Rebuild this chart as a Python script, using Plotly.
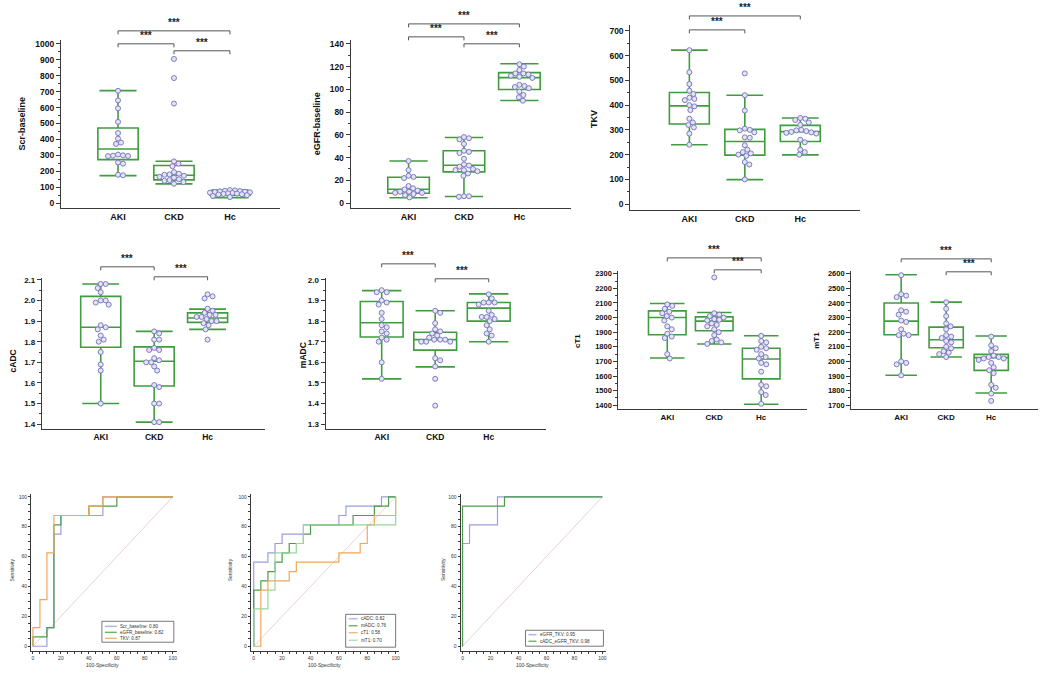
import numpy as np
import plotly.graph_objects as go

W, H = 1060, 690
GROUPS = ["AKI", "CKD", "Hc"]

# ---------------- individual values ----------------
scr_aki = [705, 645, 595, 510, 440, 405, 380, 372, 305, 300, 298, 296, 295, 255, 248, 178, 175]
scr_ckd = [905, 785, 625, 262, 248, 232, 195, 185, 180, 178, 172, 165, 160, 150, 145, 140, 132, 122]
scr_hc = [82, 80, 78, 76, 74, 72, 70, 68, 66, 64, 62, 60, 58, 56, 54, 50, 45, 38]

egfr_aki = [37, 29, 24, 23, 22, 15, 13, 12, 11, 10, 10, 9, 9, 8, 7, 5]
egfr_ckd = [58, 57, 56, 52, 46, 45, 44, 39, 34, 33, 32, 30, 29, 29, 28, 26, 24, 6, 6, 5.5]
egfr_hc = [122, 120, 117, 114, 114, 113, 112, 111, 110, 104, 103, 102, 101, 98, 95, 93, 90]

tkv_aki = [622, 533, 485, 458, 445, 430, 425, 420, 400, 395, 380, 345, 330, 320, 310, 285, 240]
tkv_ckd = [528, 440, 378, 305, 300, 298, 290, 270, 268, 238, 220, 210, 205, 200, 195, 170, 160, 100]
tkv_hc = [348, 345, 340, 330, 320, 300, 298, 295, 292, 290, 288, 285, 260, 250, 220, 210, 200]

cadc_aki = [2.08, 2.08, 2.06, 2.04, 2.00, 2.00, 1.99, 1.98, 1.88, 1.87, 1.86, 1.83, 1.81, 1.80, 1.75, 1.69, 1.66, 1.50]
cadc_ckd = [1.85, 1.84, 1.81, 1.81, 1.77, 1.76, 1.76, 1.72, 1.71, 1.70, 1.70, 1.68, 1.66, 1.59, 1.58, 1.50, 1.50, 1.41, 1.41]
cadc_hc = [2.03, 2.02, 2.01, 1.96, 1.95, 1.94, 1.93, 1.93, 1.92, 1.92, 1.91, 1.90, 1.90, 1.89, 1.88, 1.86, 1.81]

madc_aki = [1.95, 1.94, 1.94, 1.90, 1.89, 1.88, 1.84, 1.81, 1.78, 1.77, 1.75, 1.74, 1.72, 1.71, 1.70, 1.60, 1.52]
madc_ckd = [1.85, 1.84, 1.79, 1.76, 1.75, 1.74, 1.73, 1.72, 1.71, 1.71, 1.71, 1.70, 1.70, 1.70, 1.62, 1.61, 1.58, 1.52, 1.39]
madc_hc = [1.93, 1.91, 1.89, 1.89, 1.89, 1.88, 1.85, 1.83, 1.82, 1.82, 1.81, 1.80, 1.78, 1.76, 1.74, 1.73, 1.70]

ct1_aki = [2090, 2080, 2060, 2040, 2030, 2010, 2000, 1980, 1940, 1920, 1890, 1870, 1860, 1750, 1720]
ct1_ckd = [2275, 2030, 2020, 2010, 2000, 1990, 1985, 1980, 1960, 1950, 1940, 1920, 1900, 1880, 1850, 1840, 1830, 1820]
ct1_hc = [1875, 1840, 1830, 1800, 1790, 1780, 1750, 1730, 1720, 1690, 1680, 1630, 1540, 1530, 1490, 1470, 1410]

mt1_aki = [2590, 2460, 2450, 2440, 2350, 2340, 2320, 2280, 2270, 2220, 2190, 2180, 2180, 2000, 1990, 1980, 1905]
mt1_ckd = [2405, 2360, 2310, 2260, 2240, 2220, 2180, 2170, 2160, 2140, 2130, 2100, 2090, 2070, 2060, 2050, 2030]
mt1_hc = [2170, 2110, 2090, 2070, 2040, 2030, 2030, 2020, 2020, 2010, 1990, 1960, 1940, 1920, 1840, 1820, 1780, 1730]

# ---------------- box statistics [AKI, CKD, Hc] ----------------
scr_q1, scr_med, scr_q3 = [273, 146, 50], [340, 175, 62], [472, 236, 74]
scr_lo, scr_hi = [173, 121, 35], [706, 263, 82]
egfr_q1, egfr_med, egfr_q3 = [8.7, 27.4, 99.8], [12.2, 33.2, 110.3], [22.7, 46, 114.7]
egfr_lo, egfr_hi = [4.7, 5.8, 90.2], [37, 57.6, 122.5]
tkv_q1, tkv_med, tkv_q3 = [324, 198, 253], [397, 253, 293], [451, 302, 318]
tkv_lo, tkv_hi = [240, 99, 199], [622, 440, 348]
cadc_q1, cadc_med, cadc_q3 = [1.773, 1.585, 1.894], [1.87, 1.705, 1.915], [2.02, 1.775, 1.94]
cadc_lo, cadc_hi = [1.50, 1.41, 1.86], [2.08, 1.85, 1.958]
madc_q1, madc_med, madc_q3 = [1.723, 1.659, 1.80], [1.792, 1.71, 1.863], [1.895, 1.746, 1.89]
madc_lo, madc_hi = [1.52, 1.578, 1.70], [1.948, 1.85, 1.932]
ct1_q1, ct1_med, ct1_q3 = [1883, 1910, 1581], [2001, 1976, 1717], [2046, 2005, 1790]
ct1_lo, ct1_hi = [1724, 1819, 1407], [2096, 2035, 1876]
mt1_q1, mt1_med, mt1_q3 = [2183, 2094, 1939], [2276, 2148, 2026], [2400, 2235, 2048]
mt1_lo, mt1_hi = [1905, 2030, 1784], [2593, 2406, 2174]

# significance comparisons per panel (group index pairs) and label
sig_label = "***"
scr_pairs = [(0, 2), (0, 1), (1, 2)]
egfr_pairs = [(0, 2), (0, 1), (1, 2)]
tkv_pairs = [(0, 2), (0, 1)]
cadc_pairs = [(0, 1), (1, 2)]
madc_pairs = [(0, 1), (1, 2)]
ct1_pairs = [(0, 2), (1, 2)]
mt1_pairs = [(0, 2), (1, 2)]

# ---------------- ROC curves (100-Specificity, Sensitivity) ----------------
roc1_scr_x, roc1_scr_y = [0, 10, 15, 20, 50, 100], [0, 12.5, 75, 87.5, 100, 100]
roc1_egfr_x, roc1_egfr_y = [0, 0, 10, 15, 20, 40, 60, 100], [0, 6.25, 12.5, 81.25, 87.5, 93.75, 100, 100]
roc1_tkv_x, roc1_tkv_y = [0, 0, 5, 10, 15, 40, 50, 100], [0, 12.5, 31.25, 62.5, 87.5, 93.75, 100, 100]
roc2_cadc_x = [0, 0, 10, 15, 20, 35, 60, 65, 90, 100]
roc2_cadc_y = [0, 56.25, 62.5, 68.75, 75, 81.25, 87.5, 93.75, 100, 100]
roc2_madc_x = [0, 0, 5, 10, 15, 20, 25, 35, 40, 70, 85, 95, 100]
roc2_madc_y = [0, 37.5, 43.75, 50, 56.25, 62.5, 68.75, 75, 81.25, 87.5, 93.75, 100, 100]
roc2_ct1_x = [0, 5, 10, 25, 30, 60, 75, 80, 85, 100]
roc2_ct1_y = [0, 37.5, 43.75, 50, 56.25, 62.5, 68.75, 81.25, 87.5, 100]
roc2_mt1_x = [0, 0, 10, 15, 30, 35, 100]
roc2_mt1_y = [0, 25, 37.5, 62.5, 68.75, 81.25, 100]
roc3_a_x, roc3_a_y = [0, 0, 5, 25, 100], [0, 68.75, 81.25, 100, 100]
roc3_b_x, roc3_b_y = [0, 0, 30, 100], [0, 93.75, 100, 100]
ref_x, ref_y = [0, 100], [0, 100]

roc1_names = ["Scr_baseline: 0.80", "eGFR_baseline: 0.82", "TKV: 0.87"]
roc2_names = ["cADC: 0.82", "mADC: 0.76", "cT1: 0.58", "mT1: 0.70"]
roc3_names = ["eGFR_TKV: 0.95", "cADC_eGFR_TKV: 0.98"]

# ---------------- styles ----------------
GREEN = "#3f9c3f"
PT_LINE = "#7c7cc0"
PT_FILL = "#e4e4f4"
AXC = "#3a3a3a"
BR = "#555555"
C_BLUE = "#9c9ce0"
C_GREEN = "#4a9d4a"
C_ORANGE = "#f2a65a"
C_LGREEN = "#9ad69a"
C_DIAG = "#e8d2d2"
FONT = "Liberation Sans, Arial, sans-serif"


def P(x):
    return x / W


def Q(y):
    return 1 - y / H


fig = go.Figure()


def swarm(vals, xppu, yppu, d=5.0, cap=21.0):
    vals = np.asarray(vals, float)
    ys = vals * yppu
    order = np.argsort(-vals, kind="stable")
    px_, py_ = [], []
    off = np.zeros(len(vals))
    cands = [0.0]
    k = 1
    while k * 0.5 <= cap:
        cands += [k * 0.5, -k * 0.5]
        k += 1
    for i in order:
        y = ys[i]
        chosen, best_gap, fallback = None, -1.0, 0.0
        for c in cands:
            gaps = [np.hypot(c - a, y - b) for a, b in zip(px_, py_)]
            g = min(gaps) if gaps else 1e9
            if g >= d:
                chosen = c
                break
            if g > best_gap + 0.3:
                best_gap, fallback = g, c
        if chosen is None:
            chosen = fallback
        px_.append(chosen)
        py_.append(y)
        off[i] = chosen
    return off / xppu


def box_panel(n, groups, stats, cfg):
    xs = "x" if n == 1 else f"x{n}"
    ys_ = "y" if n == 1 else f"y{n}"
    x0, x1 = cfg["xpx"]
    yt, yb = cfg["ypx"]
    xr, yr = cfg["xr"], cfg["yr"]
    xppu = (x1 - x0) / (xr[1] - xr[0])
    yppu = (yb - yt) / (yr[1] - yr[0])
    q1, med, q3, lo, hi = stats
    fig.add_trace(go.Box(
        x=[0, 1, 2], q1=q1, median=med, q3=q3, lowerfence=lo, upperfence=hi,
        width=cfg["bw"], whiskerwidth=0.92, boxpoints=False,
        line=dict(color=GREEN, width=1.6), fillcolor="rgba(0,0,0,0)",
        xaxis=xs, yaxis=ys_, showlegend=False, hoverinfo="skip"))
    for gi, vals in enumerate(groups):
        off = swarm(vals, xppu, yppu)
        fig.add_trace(go.Scatter(
            x=gi + off, y=vals, mode="markers", xaxis=xs, yaxis=ys_, showlegend=False,
            marker=dict(size=5, color=PT_FILL, line=dict(color=PT_LINE, width=1))))
    ax = dict(domain=[P(x0), P(x1)], anchor=ys_, range=xr, tickvals=[0, 1, 2], ticktext=GROUPS,
              showline=True, linecolor=AXC, linewidth=1.2, ticks="", showgrid=False, zeroline=False,
              tickfont=dict(family=FONT, size=cfg["fs"], color="#111", weight="bold"))
    ay = dict(domain=[Q(yb), Q(yt)], anchor=xs, range=yr, dtick=cfg["dt"], tickformat=cfg.get("fmt", ""),
              showline=True, linecolor=AXC, linewidth=1.2, ticks="outside", ticklen=4, tickcolor=AXC,
              showgrid=False, zeroline=False,
              minor=dict(dtick=cfg["dt"] / 2, ticks="outside", ticklen=2, tickcolor=AXC),
              tickfont=dict(family=FONT, size=cfg["fs"] - 0.5, color="#111", weight="bold"))
    fig.update_layout(**{("xaxis" if n == 1 else f"xaxis{n}"): ax,
                         ("yaxis" if n == 1 else f"yaxis{n}"): ay})
    fig.add_annotation(text=cfg["title"], x=P(cfg["tpos"][0]), y=Q(cfg["tpos"][1]), xref="paper",
                       yref="paper", textangle=-90, showarrow=False, xanchor="center", yanchor="middle",
                       font=dict(family=FONT, size=cfg["fs"], color="#111", weight="bold"))
    for (a, b), ly in zip(cfg["pairs"], cfg["blev"]):
        ya, yt2 = Q(ly), Q(ly + 3.5)
        fig.add_shape(type="path", xref=xs, yref="paper",
                      path=f"M {a},{yt2} L {a},{ya} L {b},{ya} L {b},{yt2}",
                      line=dict(color=BR, width=1))
        fig.add_annotation(text=sig_label, x=(a + b) / 2, y=Q(ly - 0.5), xref=xs, yref="paper",
                           xanchor="center", yanchor="bottom", showarrow=False,
                           font=dict(family=FONT, size=10, color="#222", weight="bold"))


box_panel(1, [scr_aki, scr_ckd, scr_hc], [scr_q1, scr_med, scr_q3, scr_lo, scr_hi],
          dict(xpx=(61, 280), ypx=(38, 207), xr=[-1.02, 2.89], yr=[-31, 1025], bw=0.72, dt=100,
               fs=9, title="Scr-baseline", tpos=(22, 122), pairs=scr_pairs, blev=[29, 42, 49]))
box_panel(2, [egfr_aki, egfr_ckd, egfr_hc], [egfr_q1, egfr_med, egfr_q3, egfr_lo, egfr_hi],
          dict(xpx=(351, 572), ypx=(38, 207), xr=[-1.045, 2.94], yr=[-4.4, 143.5], bw=0.75, dt=20,
               fs=9, title="eGFR-baseline", tpos=(318, 122), pairs=egfr_pairs, blev=[22, 35, 42]))
box_panel(3, [tkv_aki, tkv_ckd, tkv_hc], [tkv_q1, tkv_med, tkv_q3, tkv_lo, tkv_hi],
          dict(xpx=(631, 861), ypx=(23, 209), xr=[-1.063, 3.08], yr=[-24, 724], bw=0.72, dt=100,
               fs=9, title="TKV", tpos=(595, 117), pairs=tkv_pairs, blev=[14, 28]))
box_panel(4, [cadc_aki, cadc_ckd, cadc_hc], [cadc_q1, cadc_med, cadc_q3, cadc_lo, cadc_hi],
          dict(xpx=(42, 265), ypx=(277, 429), xr=[-1.10, 3.07], yr=[1.376, 2.11], bw=0.75, dt=0.1,
               fmt=".1f", fs=8.5, title="cADC", tpos=(13, 360), pairs=cadc_pairs, blev=[266, 276]))
box_panel(5, [madc_aki, madc_ckd, madc_hc], [madc_q1, madc_med, madc_q3, madc_lo, madc_hi],
          dict(xpx=(326, 547), ypx=(277, 429), xr=[-1.047, 3.08], yr=[1.276, 2.01], bw=0.8, dt=0.1,
               fmt=".1f", fs=8.5, title="mADC", tpos=(304, 355), pairs=madc_pairs, blev=[263, 278]))
box_panel(6, [ct1_aki, ct1_ckd, ct1_hc], [ct1_q1, ct1_med, ct1_q3, ct1_lo, ct1_hi],
          dict(xpx=(619, 808), ypx=(270, 409), xr=[-1.04, 2.98], yr=[1373, 2320], bw=0.8, dt=100,
               fs=8, title="cT1", tpos=(578, 340), pairs=ct1_pairs, blev=[257, 269]))
box_panel(7, [mt1_aki, mt1_ckd, mt1_hc], [mt1_q1, mt1_med, mt1_q3, mt1_lo, mt1_hi],
          dict(xpx=(852, 1039), ypx=(270, 409), xr=[-1.11, 3.04], yr=[1673, 2620], bw=0.76, dt=100,
               fs=8, title="mT1", tpos=(817, 340), pairs=mt1_pairs, blev=[258, 271]))


def roc_panel(n, curves, cfg):
    xs, ys_ = f"x{n}", f"y{n}"
    fig.add_trace(go.Scatter(x=ref_x, y=ref_y, mode="lines", xaxis=xs, yaxis=ys_, showlegend=False,
                             line=dict(color=C_DIAG, width=1), hoverinfo="skip"))
    for (cx, cy, col, nm) in curves:
        fig.add_trace(go.Scatter(x=cx, y=cy, mode="lines", name=nm, xaxis=xs, yaxis=ys_,
                                 showlegend=False, line=dict(color=col, width=1.2, shape="hv")))
    x0, x1 = cfg["xpx"]
    yt, yb = 494, 652
    tf = dict(family=FONT, size=5, color="#333")
    common = dict(showline=True, linecolor=AXC, linewidth=1, ticks="outside", ticklen=2, tickcolor=AXC,
                  showgrid=False, zeroline=False, dtick=20, tickfont=tf,
                  minor=dict(dtick=5, ticks="outside", ticklen=1.5, tickcolor=AXC))
    fig.update_layout(**{f"xaxis{n}": dict(domain=[P(x0), P(x1)], anchor=ys_, range=cfg["xr"], **common),
                         f"yaxis{n}": dict(domain=[Q(yb), Q(yt)], anchor=xs, range=[-3.3, 102], **common)})
    fig.add_annotation(text="100-Specificity", x=P((cfg["z0"] + cfg["z1"]) / 2), y=Q(666), xref="paper",
                       yref="paper", showarrow=False, xanchor="center", yanchor="middle",
                       font=dict(family=FONT, size=5, color="#333"))
    fig.add_annotation(text="Sensitivity", x=P(cfg["sx"]), y=Q(570), xref="paper", yref="paper",
                       textangle=-90, showarrow=False, xanchor="center", yanchor="middle",
                       font=dict(family=FONT, size=5, color="#333"))
    # legend box
    lx0, lx1, ly0, ly1 = cfg["leg"]
    fig.add_shape(type="rect", xref="paper", yref="paper", x0=P(lx0), x1=P(lx1), y0=Q(ly1), y1=Q(ly0),
                  line=dict(color="#555", width=0.8), fillcolor="white")
    for k, (cx, cy, col, nm) in enumerate(curves):
        ry = cfg["rows"][k]
        fig.add_shape(type="line", xref="paper", yref="paper", x0=P(lx0 + 3), x1=P(lx0 + cfg["lw"]),
                      y0=Q(ry), y1=Q(ry), line=dict(color=col, width=1.1))
        fig.add_annotation(text=nm, x=P(lx0 + cfg["lw"] + 1.5), y=Q(ry), xref="paper", yref="paper",
                           xanchor="left", yanchor="middle", showarrow=False,
                           font=dict(family=FONT, size=4.6, color="#333"))


roc_panel(8, [(roc1_scr_x, roc1_scr_y, C_BLUE, roc1_names[0]),
              (roc1_egfr_x, roc1_egfr_y, C_GREEN, roc1_names[1]),
              (roc1_tkv_x, roc1_tkv_y, C_ORANGE, roc1_names[2])],
          dict(xpx=(31, 177), xr=[-1.4, 102.9], z0=33, z1=173, sx=12,
               leg=(102, 174, 622, 643), rows=[627, 633, 639], lw=15))
roc_panel(9, [(roc2_cadc_x, roc2_cadc_y, C_BLUE, roc2_names[0]),
              (roc2_madc_x, roc2_madc_y, C_GREEN, roc2_names[1]),
              (roc2_ct1_x, roc2_ct1_y, C_ORANGE, roc2_names[2]),
              (roc2_mt1_x, roc2_mt1_y, C_LGREEN, roc2_names[3])],
          dict(xpx=(251, 399), xr=[-2.1, 102.1], z0=254, z1=396, sx=230,
               leg=(346, 396, 615, 648), rows=[619.5, 626.5, 633.5, 641], lw=12))
roc_panel(10, [(roc3_a_x, roc3_a_y, C_BLUE, roc3_names[0]),
               (roc3_b_x, roc3_b_y, C_GREEN, roc3_names[1])],
          dict(xpx=(461, 607), xr=[-1.4, 102.9], z0=463, z1=603, sx=443,
               leg=(526, 604, 631, 647), rows=[635.5, 642], lw=11))

fig.update_layout(width=W, height=H, margin=dict(l=0, r=0, t=0, b=0), autosize=False,
                  paper_bgcolor="white", plot_bgcolor="white", showlegend=False,
                  font=dict(family=FONT))
fig.write_html("out.html")
